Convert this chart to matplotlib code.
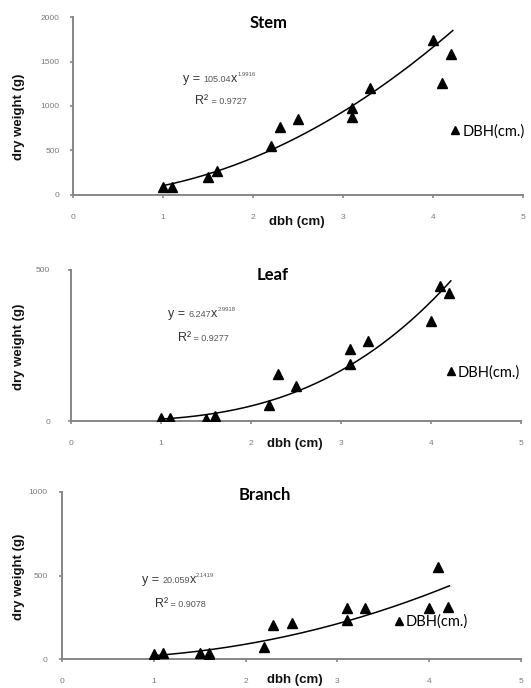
import matplotlib
matplotlib.use("Agg")
import matplotlib.pyplot as plt
import numpy as np

# ---- data -------------------------------------------------------------
dbh_stem = [1.0, 1.1, 1.5, 1.6, 2.2, 2.3, 2.5, 3.1, 3.1, 3.3, 4.0, 4.1, 4.2]
stem_wt = [90, 95, 205, 270, 553, 766, 852, 983, 871, 1207, 1746, 1260, 1589]

dbh_leaf = [1.0, 1.1, 1.5, 1.6, 2.2, 2.3, 2.5, 3.1, 3.1, 3.3, 4.0, 4.1, 4.2]
leaf_wt = [11, 11, 8, 15, 52, 155, 115, 188, 238, 265, 332, 447, 425]

dbh_branch = [1.0, 1.1, 1.5, 1.6, 1.6, 2.2, 2.3, 2.5, 3.1, 3.1, 3.3, 4.0, 4.1, 4.2]
branch_wt = [30, 34, 34, 25, 35, 74, 203, 213, 303, 233, 303, 307, 548, 313]

# power-law fits y = a * x^b
stem_fit = (105.04, 1.9916, 0.9727)
leaf_fit = (6.247, 2.9918, 0.9277)
branch_fit = (20.059, 2.1419, 0.9078)

x_ticks = [0, 1, 2, 3, 4, 5]
stem_yticks = [0, 500, 1000, 1500, 2000]
leaf_yticks = [0, 500]
branch_yticks = [0, 500, 1000]

# ---- style ------------------------------------------------------------
W, H = 531, 688
AX_GREY = "#868686"
TICK_GREY = "#7a7a7a"
TXT = "#333333"
LABEL = "#111111"

fig = plt.figure(figsize=(W / 100, H / 100), dpi=100)


def frac_box(left, top, right, bottom):
    return [left / W, 1 - bottom / H, (right - left) / W, (bottom - top) / H]


def fpos(px, py):
    return px / W, 1 - py / H


def style_axes(ax, yticks, ypad):
    for s in ("top", "right"):
        ax.spines[s].set_visible(False)
    for s in ("left", "bottom"):
        ax.spines[s].set_color(AX_GREY)
        ax.spines[s].set_linewidth(1.4)
    ax.set_xlim(0, 5)
    ax.set_ylim(yticks[0], yticks[-1])
    ax.set_xticks(x_ticks)
    ax.set_yticks(yticks)
    ax.tick_params(axis="both", colors=AX_GREY, labelcolor=TICK_GREY,
                   labelsize=6, length=2.5, width=1.2)
    ax.tick_params(axis="x", pad=11)
    ax.tick_params(axis="y", pad=ypad)
    for lab in ax.get_xticklabels() + ax.get_yticklabels():
        lab.set_family("Liberation Sans")
    ax.patch.set_alpha(0)


def equation(ax, x, y, pieces):
    """Draw a run of text pieces with mixed sizes on a common baseline."""
    renderer = fig.canvas.get_renderer()
    dx = 0.0
    for s, size, rise, color in pieces:
        t = ax.annotate(s, xy=(x, y), xycoords="data",
                        xytext=(dx, rise), textcoords="offset points",
                        fontsize=size, color=color, va="baseline", ha="left",
                        family="Liberation Sans", annotation_clip=False)
        bb = t.get_window_extent(renderer)
        dx += bb.width * 72 / fig.dpi


def panel(box, xs, ys, fit, yticks, ypad, title, title_xy, eq_xy, r2_xy,
          leg_xy, ylab_px, xlab_px):
    ax = fig.add_axes(frac_box(*box))
    style_axes(ax, yticks, ypad)
    a, b, r2 = fit
    xx = np.linspace(min(xs), max(xs) + 0.02, 200)
    ax.plot(xx, a * xx ** b, color="black", lw=1.1, zorder=2)
    ax.plot(xs, ys, linestyle="none", marker="^", markersize=7.5,
            color="black", label="DBH(cm.)", zorder=3)
    ax.text(*title_xy, title, ha="center", va="center", fontsize=12,
            fontweight="bold", family="Lato", color="black")
    equation(ax, *eq_xy, [("y = ", 9, 0, TXT), (f"{a:g}", 6.5, 0, "#555555"),
                          ("x", 9, 0, TXT), (f"{b:.4f}", 4.2, 4.5, "#555555")])
    equation(ax, *r2_xy, [("R\u00b2", 9, 0, TXT), (f" = {r2:.4f}", 6.5, 0, "#555555")])
    ax.legend(loc="center left", bbox_to_anchor=leg_xy,
              bbox_transform=ax.transData, frameon=False, handlelength=0.6,
              handletextpad=0.2, borderpad=0, borderaxespad=0,
              markerscale=0.75, prop={"family": "Lato", "size": 10.5})
    fig.text(*fpos(*ylab_px), "dry weight (g)", rotation=90, ha="center",
             va="center", fontsize=9.5, fontweight="bold",
             family="Liberation Sans", color=LABEL)
    fig.text(*fpos(*xlab_px), "dbh (cm)", ha="center", va="center",
             fontsize=9.5, fontweight="bold", family="Liberation Sans",
             color=LABEL)
    return ax


fig.canvas.draw()

panel((73, 17, 523, 195), dbh_stem, stem_wt, stem_fit, stem_yticks, 7, "Stem",
      (2.17, 1933), (1.22, 1270), (1.36, 1022), (4.2, 715),
      (19, 117), (297, 222))

panel((71, 270, 521, 421), dbh_leaf, leaf_wt, leaf_fit, leaf_yticks, 12.5, "Leaf",
      (2.24, 483), (1.08, 344), (1.19, 265), (4.17, 162),
      (19, 347), (295, 444))

panel((62, 492, 521, 659), dbh_branch, branch_wt, branch_fit, branch_yticks, 8,
      "Branch", (2.21, 982), (0.87, 455), (1.01, 311), (3.62, 223),
      (19, 577), (295, 680))

fig.savefig("out.png", dpi=100)
